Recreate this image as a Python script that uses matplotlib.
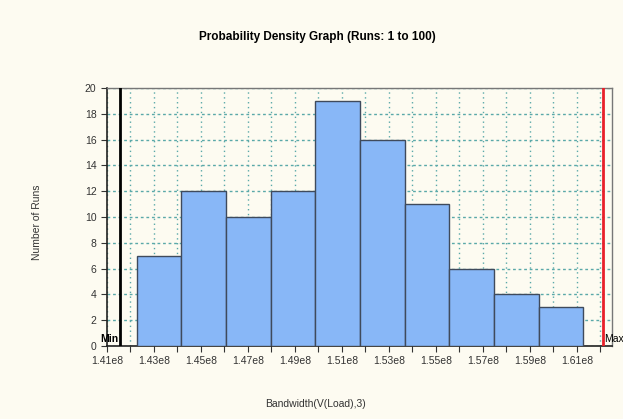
import matplotlib.pyplot as plt
from matplotlib.ticker import FixedLocator

plt.rcParams['font.family'] = ['Liberation Sans', 'DejaVu Sans']

# histogram data
bin_edges = [1.4227e8, 1.4417e8, 1.4607e8, 1.4797e8, 1.4987e8, 1.5177e8,
             1.5367e8, 1.5557e8, 1.5747e8, 1.5937e8, 1.6127e8]
run_counts = [7, 12, 10, 12, 19, 16, 11, 6, 4, 3]
min_value = 1.4155e8
max_value = 1.6211e8

x_major = [1.41e8, 1.43e8, 1.45e8, 1.47e8, 1.49e8, 1.51e8,
           1.53e8, 1.55e8, 1.57e8, 1.59e8, 1.61e8]
x_labels = ['1.41e8', '1.43e8', '1.45e8', '1.47e8', '1.49e8', '1.51e8',
            '1.53e8', '1.55e8', '1.57e8', '1.59e8', '1.61e8']
x_minor = [1.42e8, 1.44e8, 1.46e8, 1.48e8, 1.50e8,
           1.52e8, 1.54e8, 1.56e8, 1.58e8, 1.60e8, 1.62e8]
y_ticks = [0, 2, 4, 6, 8, 10, 12, 14, 16, 18, 20]

bg = '#fdfbf1'
fig = plt.figure(figsize=(6.23, 4.19), dpi=100, facecolor=bg)
ax = fig.add_axes([0.1717, 0.1742, 0.8106, 0.6158], facecolor=bg)

widths = [b - a for a, b in zip(bin_edges[:-1], bin_edges[1:])]
ax.bar(bin_edges[:-1], run_counts, width=widths, align='edge',
       color='#88b7f7', edgecolor='#3f4a5c', linewidth=1.0, zorder=3)

ax.axvline(min_value, color='black', linewidth=2, zorder=4)
ax.axvline(max_value, color='#e8202a', linewidth=2, zorder=4)

ax.set_xlim(1.41e8, 1.6249e8)
ax.set_ylim(0, 20)
ax.set_xticks(x_major)
ax.set_xticklabels(x_labels)
ax.xaxis.set_minor_locator(FixedLocator(x_minor))
ax.set_yticks(y_ticks)

ax.grid(axis='x', which='both', color='#5aa9a9', linestyle=(0, (1, 2.5)),
        linewidth=1.0, zorder=0)
ax.grid(axis='y', which='major', color='#5aa9a9', linestyle=(0, (2, 2)),
        linewidth=1.0, zorder=0)
ax.set_axisbelow(True)

ax.tick_params(axis='both', which='both', direction='out', labelsize=7.5,
               colors='#333333', length=4, width=0.8)

for side in ['left', 'bottom']:
    ax.spines[side].set_color('#222222')
    ax.spines[side].set_linewidth(1.2)
for side in ['top', 'right']:
    ax.spines[side].set_color('#777777')
    ax.spines[side].set_linewidth(1.0)

ax.text(min_value - 0.0006e8, 0.15, 'Min', ha='right', va='bottom',
        fontsize=7.5, fontweight='bold', zorder=5)
ax.text(max_value + 0.0005e8, 0.15, 'Max', ha='left', va='bottom',
        fontsize=7.5, zorder=5, clip_on=False)

fig.text(0.509, 0.911, 'Probability Density Graph (Runs: 1 to 100)',
         ha='center', va='center', fontsize=8.5, fontweight='bold')
fig.text(0.507, 0.036, 'Bandwidth(V(Load),3)', ha='center', va='center',
         fontsize=7.5, color='#333333')
fig.text(0.059, 0.47, 'Number of Runs', ha='center', va='center',
         rotation=90, fontsize=7.5, color='#333333')

fig.savefig('out.png', dpi=100, facecolor=bg)
